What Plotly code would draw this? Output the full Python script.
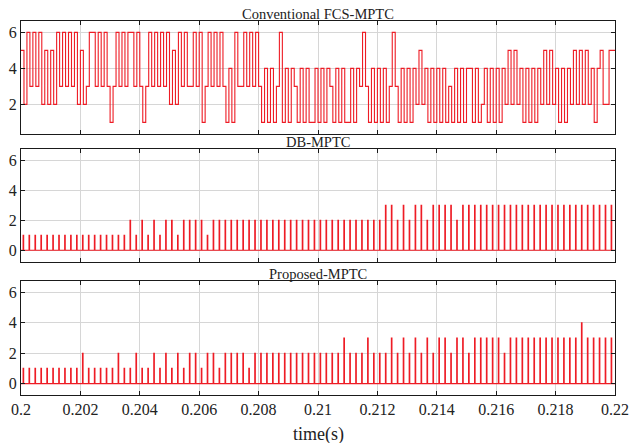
import numpy as np
import plotly.graph_objects as go

# ---------------- data ----------------
t_start = 0.2
t_end = 0.22
conv_dt = 0.0001          # switching-state step of conventional FCS-MPTC
pulse_dt = 0.0002         # period of pulses in DB / proposed

conv_values = [
    5, 2, 6, 3, 6, 3, 6, 2, 5, 2, 5, 2, 6, 3, 6, 3, 6, 3, 6, 2,
    5, 2, 3, 6, 6, 3, 6, 3, 6, 3, 1, 3, 6, 3, 6, 3, 6, 6, 3, 6,
    3, 1, 3, 6, 3, 6, 3, 6, 3, 6, 2, 5, 2, 6, 3, 6, 3, 3, 6, 3,
    6, 1, 3, 6, 3, 6, 3, 6, 3, 1, 4, 1, 6, 3, 3, 6, 3, 6, 3, 6,
    3, 1, 4, 1, 4, 1, 3, 6, 1, 4, 1, 4, 3, 1, 4, 1, 4, 1, 1, 4,
    1, 4, 1, 4, 3, 1, 4, 1, 4, 1, 1, 4, 1, 4, 3, 6, 3, 1, 4, 1,
    4, 1, 4, 1, 3, 6, 3, 1, 4, 1, 4, 1, 4, 2, 5, 2, 4, 1, 4, 1,
    4, 1, 4, 1, 3, 1, 4, 1, 4, 1, 4, 4, 1, 4, 1, 2, 4, 1, 4, 1,
    4, 1, 4, 2, 5, 2, 5, 2, 4, 1, 4, 1, 4, 1, 4, 2, 5, 2, 5, 2,
    4, 1, 4, 1, 4, 2, 5, 2, 5, 2, 5, 2, 4, 1, 4, 5, 2, 2, 5, 5,
]

db_values = (
    [1] * 18
    + [2, 1, 2, 1, 2, 1, 2, 2, 1, 2, 2, 2, 2, 1]
    + [2] * 29
    + [3, 3, 2, 3, 2, 3, 3, 2, 3, 3, 3, 3, 2]
    + [3] * 26
)

prop_values = (
    [1] * 10 + [2] + [1] * 5 + [2, 1, 1, 2, 1, 1, 2, 1, 2, 1, 2, 1, 2, 2, 1, 2, 2, 1]
    + [2] * 4 + [1] + [2] * 15
    + [3, 2, 2, 2, 3, 2, 2, 2, 3, 2, 3, 2, 3, 2, 3, 2, 3, 3, 2, 3, 3, 2]
    + [3] * 5 + [2] + [3] * 12 + [4] + [3] * 5
)

titles = ["Conventional FCS-MPTC", "DB-MPTC", "Proposed-MPTC"]
x_ticks = [0.2, 0.202, 0.204, 0.206, 0.208, 0.21, 0.212, 0.214, 0.216, 0.218, 0.22]
x_tick_text = ["0.2", "0.202", "0.204", "0.206", "0.208", "0.21", "0.212", "0.214", "0.216", "0.218", "0.22"]

# ---------------- build step traces ----------------
conv_t = list(t_start + conv_dt * np.arange(len(conv_values))) + [t_end]
conv_y = list(conv_values) + [conv_values[-1]]

def pulses(vals, offset=0.00007, width=0.00002):
    xs, ys = [t_start], [0]
    for k, v in enumerate(vals):
        t0 = t_start + pulse_dt * k + offset
        xs += [t0, t0 + width]
        ys += [v, 0]
    xs.append(t_end)
    ys.append(0)
    return xs, ys

db_t, db_y = pulses(db_values)
pr_t, pr_y = pulses(prop_values)

red = "#ee1c25"
font_family = "Liberation Serif, Times New Roman, serif"

fig = go.Figure()
fig.add_trace(go.Scatter(x=conv_t, y=conv_y, mode="lines", line=dict(color=red, width=1.1, shape="hv"),
                         xaxis="x", yaxis="y", showlegend=False))
fig.add_trace(go.Scatter(x=db_t, y=db_y, mode="lines", line=dict(color=red, width=1.1, shape="hv"),
                         xaxis="x2", yaxis="y2", showlegend=False))
fig.add_trace(go.Scatter(x=pr_t, y=pr_y, mode="lines", line=dict(color=red, width=1.1, shape="hv"),
                         xaxis="x3", yaxis="y3", showlegend=False))

domains = [[0.698, 1.0], [0.3548, 0.659], [0.0, 0.304]]
yranges = [[0.36, 6.63], [-0.8, 6.79], [-0.75, 6.73]]
ytickvals = [[2, 4, 6], [0, 2, 4, 6], [0, 2, 4, 6]]

axis_common = dict(
    showline=True, linecolor="#1a1a1a", linewidth=1.2, mirror="ticks",
    ticks="inside", ticklen=4, tickcolor="#1a1a1a", tickwidth=1,
    showgrid=True, gridcolor="#d6d6d6", gridwidth=1, zeroline=False,
    automargin=False,
    tickfont=dict(family=font_family, size=16, color="#222"),
)

layout = dict(
    width=630, height=443,
    margin=dict(l=21, r=15, t=21, b=48),
    paper_bgcolor="white", plot_bgcolor="white",
    font=dict(family=font_family, color="#222"),
    annotations=[],
)
for i in range(3):
    xa = "xaxis" if i == 0 else f"xaxis{i+1}"
    ya = "yaxis" if i == 0 else f"yaxis{i+1}"
    anchor_y = "y" if i == 0 else f"y{i+1}"
    anchor_x = "x" if i == 0 else f"x{i+1}"
    layout[xa] = dict(axis_common, range=[t_start, t_end], domain=[0, 1], anchor=anchor_y,
                      tickvals=x_ticks, ticktext=x_tick_text, showticklabels=(i == 2))
    layout[ya] = dict(axis_common, range=yranges[i], domain=domains[i], anchor=anchor_x,
                      tickvals=ytickvals[i])
    layout["annotations"].append(dict(
        text=titles[i], xref="paper", yref="paper", x=0.5, y=domains[i][1],
        xanchor="center", yanchor="bottom", showarrow=False, yshift=-3,
        font=dict(family=font_family, size=14.5, color="#222")))

layout["annotations"].append(dict(
    text="time(s)", xref="paper", yref="paper", x=0.5, y=0, yshift=-27,
    xanchor="center", yanchor="top", showarrow=False,
    font=dict(family=font_family, size=18, color="#222")))

fig.update_layout(**layout)
fig.write_html("out.html", config={"displayModeBar": False},
               post_script="document.body.style.margin='0';")
